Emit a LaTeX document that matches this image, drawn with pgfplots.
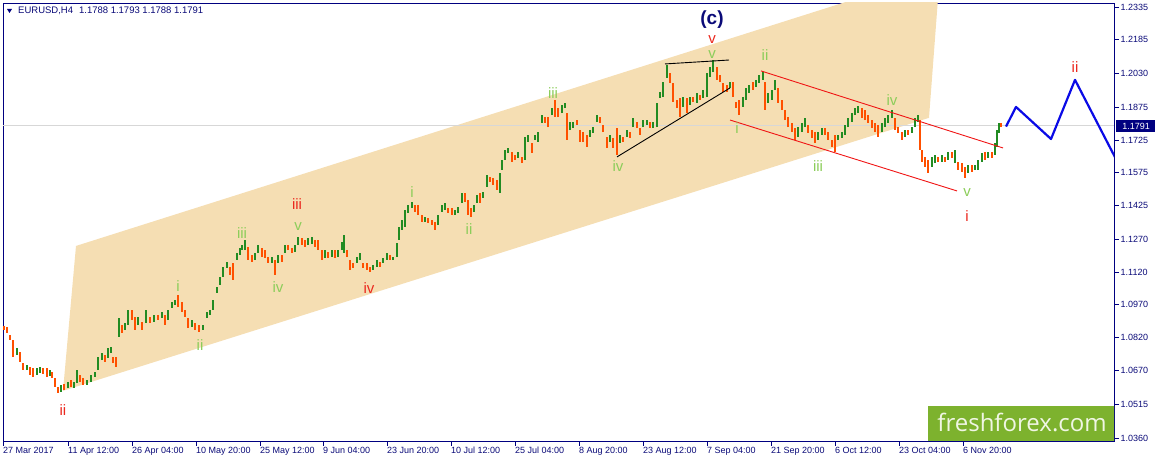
\documentclass[border=0pt]{standalone}
\usepackage{fontspec}
\setmainfont{Liberation Sans}
\newfontfamily\wmfont{Open Sans}
\usepackage{pgfplots}
\usepackage{pgfplotstable}
\pgfplotsset{compat=1.18}
\definecolor{mtnavy}{RGB}{0,0,128}
\definecolor{candleup}{RGB}{34,139,34}
\definecolor{candledn}{RGB}{255,80,0}
\definecolor{chan}{RGB}{245,222,179}
\definecolor{wgreen}{RGB}{140,205,90}
\definecolor{wred}{RGB}{235,40,30}
\definecolor{ffgreen}{RGB}{125,178,46}
\definecolor{projblue}{RGB}{10,10,230}
\definecolor{cnavy}{RGB}{10,10,120}

\pgfplotstableread{
x lo hi d
4 1.0856 1.0874 0
7 1.0842 1.0869 0
10 1.0810 1.0833 0
13 1.0732 1.0810 0
17 1.0741 1.0773 1
20 1.0709 1.0755 0
23 1.0672 1.0704 0
27 1.0672 1.0695 1
30 1.0650 1.0686 0
33 1.0640 1.0682 0
37 1.0650 1.0682 1
40 1.0659 1.0686 1
43 1.0655 1.0682 0
47 1.0640 1.0682 0
50 1.0645 1.0672 1
52 1.0636 1.0663 0
55 1.0595 1.0636 0
58 1.0568 1.0595 0
61 1.0572 1.0604 1
64 1.0581 1.0608 0
68 1.0590 1.0617 1
71 1.0595 1.0627 0
74 1.0590 1.0617 1
77 1.0613 1.0672 1
80 1.0617 1.0650 0
83 1.0604 1.0636 0
87 1.0604 1.0627 1
91 1.0617 1.0650 1
95 1.0640 1.0663 1
98 1.0672 1.0732 1
102 1.0718 1.0750 1
105 1.0709 1.0741 0
108 1.0727 1.0773 1
111 1.0750 1.0778 1
113 1.0704 1.0732 0
116 1.0686 1.0732 0
119 1.0824 1.0911 1
122 1.0842 1.0879 0
125 1.0856 1.0888 1
128 1.0879 1.0947 1
132 1.0901 1.0947 0
135 1.0856 1.0915 0
138 1.0879 1.0915 1
142 1.0856 1.0892 0
146 1.0888 1.0947 1
150 1.0888 1.0915 0
154 1.0892 1.0924 1
158 1.0901 1.0924 0
162 1.0911 1.0938 1
165 1.0879 1.0924 0
168 1.0901 1.0947 1
172 1.0956 1.0984 1
175 1.0970 1.0993 1
178 1.0961 1.1016 0
182 1.0938 1.0984 0
185 1.0915 1.0947 0
188 1.0865 1.0911 0
192 1.0869 1.0901 1
195 1.0856 1.0888 0
199 1.0846 1.0879 0
203 1.0856 1.0879 1
207 1.0911 1.0938 1
210 1.0924 1.0947 1
213 1.0947 1.0993 1
217 1.1025 1.1053 1
220 1.1062 1.1098 1
223 1.1098 1.1144 1
227 1.1140 1.1167 1
230 1.1108 1.1144 0
233 1.1085 1.1162 0
237 1.1176 1.1208 1
240 1.1199 1.1231 1
242 1.1222 1.1245 1
245 1.1222 1.1268 1
248 1.1176 1.1236 0
252 1.1167 1.1199 0
255 1.1176 1.1208 1
258 1.1208 1.1245 1
262 1.1190 1.1231 0
265 1.1185 1.1222 0
268 1.1162 1.1190 0
272 1.1162 1.1190 1
275 1.1108 1.1176 0
278 1.1162 1.1199 1
282 1.1167 1.1199 0
285 1.1208 1.1245 1
288 1.1222 1.1245 0
292 1.1208 1.1231 0
295 1.1213 1.1245 1
298 1.1245 1.1282 1
302 1.1245 1.1277 0
305 1.1236 1.1268 0
308 1.1245 1.1277 1
312 1.1249 1.1282 1
315 1.1236 1.1268 0
318 1.1222 1.1268 0
322 1.1176 1.1222 0
325 1.1185 1.1222 1
328 1.1185 1.1213 0
332 1.1190 1.1222 1
335 1.1185 1.1222 0
338 1.1190 1.1222 1
342 1.1222 1.1259 1
344 1.1208 1.1291 1
347 1.1190 1.1222 0
350 1.1130 1.1176 0
353 1.1140 1.1162 0
357 1.1162 1.1190 1
360 1.1176 1.1208 1
363 1.1140 1.1162 0
367 1.1130 1.1162 0
370 1.1121 1.1144 0
373 1.1130 1.1153 1
377 1.1144 1.1176 1
380 1.1144 1.1167 0
383 1.1162 1.1185 1
387 1.1176 1.1208 1
390 1.1176 1.1199 0
393 1.1176 1.1190 1
397 1.1190 1.1254 1
399 1.1268 1.1327 1
402 1.1314 1.1359 1
405 1.1327 1.1405 1
408 1.1391 1.1428 1
412 1.1414 1.1442 1
415 1.1396 1.1428 0
418 1.1382 1.1428 0
422 1.1350 1.1382 0
425 1.1350 1.1373 1
428 1.1346 1.1369 0
432 1.1337 1.1359 0
435 1.1314 1.1350 0
438 1.1337 1.1382 1
442 1.1396 1.1428 1
445 1.1405 1.1437 1
448 1.1391 1.1414 0
452 1.1382 1.1414 0
455 1.1382 1.1405 1
458 1.1391 1.1419 1
462 1.1437 1.1483 1
465 1.1442 1.1483 0
468 1.1382 1.1451 0
471 1.1373 1.1414 0
474 1.1396 1.1428 1
477 1.1437 1.1474 1
480 1.1437 1.1483 0
483 1.1460 1.1488 1
487 1.1511 1.1566 1
490 1.1534 1.1556 0
493 1.1520 1.1552 0
497 1.1497 1.1543 0
500 1.1483 1.1575 1
502 1.1588 1.1634 1
505 1.1634 1.1680 1
508 1.1666 1.1689 1
512 1.1625 1.1671 0
515 1.1634 1.1657 0
518 1.1643 1.1671 1
522 1.1620 1.1648 0
525 1.1634 1.1740 1
528 1.1717 1.1749 1
532 1.1666 1.1712 0
535 1.1726 1.1749 1
538 1.1717 1.1762 1
542 1.1804 1.1840 1
545 1.1804 1.1831 0
548 1.1785 1.1831 0
552 1.1840 1.1872 1
555 1.1831 1.1909 0
558 1.1831 1.1872 0
562 1.1849 1.1886 1
565 1.1872 1.1895 1
567 1.1726 1.1849 0
570 1.1772 1.1808 1
573 1.1781 1.1808 1
577 1.1795 1.1817 0
580 1.1717 1.1772 0
583 1.1717 1.1762 0
587 1.1694 1.1749 0
590 1.1740 1.1772 1
593 1.1758 1.1785 1
597 1.1808 1.1840 1
600 1.1804 1.1831 0
603 1.1762 1.1795 0
607 1.1689 1.1740 0
610 1.1717 1.1749 1
613 1.1689 1.1735 0
617 1.1657 1.1781 0
620 1.1712 1.1749 1
623 1.1717 1.1740 0
627 1.1740 1.1772 1
630 1.1735 1.1762 0
633 1.1785 1.1827 1
637 1.1781 1.1808 0
640 1.1749 1.1781 0
643 1.1785 1.1817 1
647 1.1795 1.1817 1
650 1.1781 1.1808 0
653 1.1781 1.1808 1
657 1.1785 1.1895 1
660 1.1918 1.1946 1
663 1.1923 1.1991 1
667 1.2010 1.2069 1
670 1.1987 1.2033 0
673 1.1900 1.1987 0
677 1.1872 1.1909 0
680 1.1831 1.1918 0
683 1.1877 1.1923 1
687 1.1849 1.1918 0
690 1.1886 1.1923 1
693 1.1900 1.1923 0
697 1.1895 1.1941 1
700 1.1909 1.1932 0
703 1.1918 1.1955 1
707 1.1923 1.2033 1
710 1.2014 1.2060 1
713 1.2037 1.2092 1
717 1.2001 1.2060 0
720 1.1991 1.2024 0
723 1.1946 1.1987 0
727 1.1946 1.1978 0
730 1.1964 1.1991 1
733 1.1923 1.1991 0
736 1.1872 1.1900 0
739 1.1840 1.1909 0
743 1.1877 1.1923 1
746 1.1909 1.1964 1
749 1.1941 1.1978 1
753 1.1955 1.1991 0
756 1.1969 1.2001 1
759 1.1987 1.2024 1
763 1.2001 1.2037 1
765 1.1863 1.1991 0
768 1.1895 1.1941 1
772 1.1909 1.1955 1
775 1.1955 1.2001 1
778 1.1895 1.1964 0
782 1.1863 1.1909 0
785 1.1817 1.1863 0
788 1.1785 1.1831 0
792 1.1762 1.1804 0
795 1.1726 1.1781 0
798 1.1740 1.1785 1
802 1.1762 1.1804 1
805 1.1785 1.1827 1
808 1.1758 1.1795 0
812 1.1735 1.1772 0
815 1.1712 1.1762 0
818 1.1726 1.1762 1
822 1.1749 1.1781 1
825 1.1749 1.1781 0
828 1.1726 1.1762 0
832 1.1694 1.1726 0
835 1.1671 1.1749 0
838 1.1726 1.1749 1
842 1.1735 1.1762 1
845 1.1749 1.1795 1
848 1.1785 1.1827 1
852 1.1808 1.1849 1
855 1.1840 1.1872 1
858 1.1849 1.1882 1
862 1.1827 1.1872 0
865 1.1817 1.1863 0
868 1.1804 1.1840 0
872 1.1781 1.1817 0
875 1.1762 1.1804 0
878 1.1740 1.1795 0
882 1.1762 1.1804 1
885 1.1785 1.1827 1
888 1.1804 1.1840 1
892 1.1827 1.1863 1
895 1.1772 1.1827 0
898 1.1758 1.1785 0
902 1.1726 1.1762 0
905 1.1740 1.1772 1
908 1.1749 1.1772 0
912 1.1758 1.1785 1
915 1.1785 1.1827 1
918 1.1808 1.1840 1
920 1.1680 1.1817 0
922 1.1625 1.1680 0
925 1.1602 1.1648 0
928 1.1575 1.1634 0
932 1.1602 1.1648 1
935 1.1620 1.1657 1
938 1.1625 1.1648 0
942 1.1625 1.1657 1
945 1.1625 1.1648 0
948 1.1634 1.1671 1
952 1.1643 1.1671 0
955 1.1620 1.1680 1
958 1.1588 1.1625 0
962 1.1579 1.1620 0
965 1.1552 1.1602 0
968 1.1575 1.1611 1
972 1.1579 1.1611 0
975 1.1588 1.1611 1
978 1.1588 1.1634 1
982 1.1625 1.1666 1
985 1.1634 1.1671 0
988 1.1643 1.1671 1
992 1.1643 1.1671 0
995 1.1657 1.1712 1
997 1.1694 1.1772 1
999 1.1758 1.1804 1
1001 1.1785 1.1804 0
}\candles

\begin{document}
\begin{tikzpicture}[x=1pt,y=1pt]
\useasboundingbox (0,0) rectangle (1155,462);
\begin{axis}[
  at={(3pt,21pt)}, anchor=south west, scale only axis,
  width=1111pt, height=438pt,
  xmin=3, xmax=1114, ymin=1.03461, ymax=1.23533,
  axis line style={mtnavy, line width=0.9pt},
  tick style={mtnavy, line width=0.8pt},
  major tick length=5pt, tick align=outside,
  xtick pos=bottom, ytick pos=right, yticklabel pos=right,
  xtick={3,68,132,196,260,323,387,451,515,579,643,707,771,835,899,963},
  xticklabels={27 Mar 2017,11 Apr 12:00,26 Apr 04:00,10 May 20:00,25 May 12:00,9 Jun 04:00,23 Jun 20:00,10 Jul 12:00,25 Jul 04:00,8 Aug 20:00,23 Aug 12:00,7 Sep 04:00,21 Sep 20:00,6 Oct 12:00,23 Oct 04:00,6 Nov 20:00},
  ytick={1.0360,1.0515,1.0670,1.0820,1.0970,1.1120,1.1270,1.1425,1.1575,1.1725,1.1875,1.2030,1.2185,1.2335},
  yticklabels={1.0360,1.0515,1.0670,1.0820,1.0970,1.1120,1.1270,1.1425,1.1575,1.1725,1.1875,1.2030,1.2185,1.2335},
  ticklabel style={font=\fontsize{9}{10}\selectfont, text=cnavy},
  xticklabel style={anchor=north west, inner sep=1pt, xshift=-1pt},
  yticklabel style={anchor=west, inner sep=1.5pt},
  colormap={ud}{rgb255=(255,80,0) rgb255=(34,139,34)},
  point meta min=0, point meta max=1,
]
% trend channel
\addplot[fill=chan, draw=none] coordinates {(63,1.0576) (76,1.1240) (940,1.2495) (929,1.1827)} -- cycle;
% last price line
\addplot[draw={rgb,255:red,215;green,215;blue,215}, line width=0.9pt] coordinates {(3,1.1791) (1114,1.1791)};
% candles
\addplot[quiver={u=0, v=\thisrow{hi}-\thisrow{lo}, every arrow/.append style={line width=2.9pt, draw=mapped color}}, point meta=\thisrow{d}] table[x=x, y=lo] {\candles};
% red channel lines
\addplot[draw={rgb,255:red,240;green,20;blue,20}, line width=0.9pt] coordinates {(761,1.2042) (1003,1.1689)};
\addplot[draw={rgb,255:red,240;green,20;blue,20}, line width=0.9pt] coordinates {(730,1.1817) (957,1.1492)};
% black triangle lines
\addplot[draw=black, line width=0.9pt] coordinates {(617,1.1648) (730,1.1964)};
\addplot[draw=black, line width=0.9pt] coordinates {(665,1.2074) (729,1.2092)};
% projection
\addplot[draw=projblue, line width=2.2pt, line join=round] coordinates {(1006,1.1787) (1016,1.1877) (1051,1.1730) (1075,1.2001) (1118,1.1620)};
% wave labels
\begin{scope}[every node/.style={font=\fontsize{15}{15}\selectfont, inner sep=0pt}]
\node[text=wred] at (axis cs:63,1.0489) {ii};
\node[text=wgreen] at (axis cs:200,1.0787) {ii};
\node[text=wgreen] at (axis cs:178,1.1057) {i};
\node[text=wgreen] at (axis cs:242,1.1300) {iii};
\node[text=wgreen] at (axis cs:278,1.1053) {iv};
\node[text=wgreen] at (axis cs:298,1.1327) {v};
\node[text=wred] at (axis cs:297,1.1433) {iii};
\node[text=wred] at (axis cs:369,1.1048) {iv};
\node[text=wgreen] at (axis cs:412,1.1488) {i};
\node[text=wgreen] at (axis cs:469,1.1318) {ii};
\node[text=wgreen] at (axis cs:553,1.1941) {iii};
\node[text=wgreen] at (axis cs:618,1.1607) {iv};
\node[text=wred] at (axis cs:712,1.2184) {v};
\node[text=wgreen] at (axis cs:712,1.2115) {v};
\node[text=wgreen] at (axis cs:765,1.2115) {ii};
\node[text=wgreen] at (axis cs:737,1.1781) {i};
\node[text=wgreen] at (axis cs:818,1.1607) {iii};
\node[text=wgreen] at (axis cs:892,1.1909) {iv};
\node[text=wgreen] at (axis cs:967,1.1483) {v};
\node[text=wred] at (axis cs:967,1.1378) {i};
\node[text=wred] at (axis cs:1075,1.2060) {ii};
\node[text=cnavy, font=\fontsize{19}{19}\selectfont\bfseries] at (axis cs:712,1.2275) {(c)};
\end{scope}
% watermark
\fill[ffgreen] (axis cs:928,1.0300) rectangle (axis cs:1120,1.0508);
\node[anchor=base, text={rgb,255:red,240;green,246;blue,228}, font=\wmfont\fontsize{24}{24}\selectfont, inner sep=0pt] at (axis cs:1022,1.0390) {freshforex.com};
\end{axis}
% price tag
\fill[mtnavy] (1116,329.5) rectangle (1155,341.5);
\node[text=white, font=\fontsize{9}{10}\selectfont, inner sep=0pt] at (1136,335.5) {1.1791};
% title
\fill[mtnavy] (7,453) -- (12,453) -- (9.5,449) -- cycle;
\node[anchor=base west, text=cnavy, font=\fontsize{9.5}{10}\selectfont, inner sep=0pt] at (18,448) {EURUSD,H4\hspace{6pt}1.1788 1.1793 1.1788 1.1791};
\end{tikzpicture}
\end{document}
